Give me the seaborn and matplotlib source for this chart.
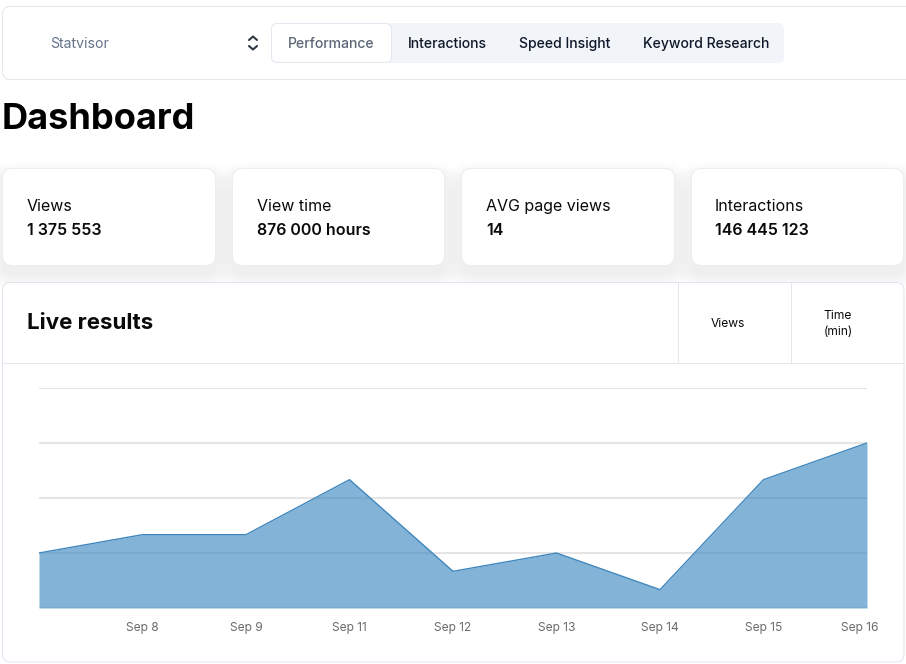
import matplotlib
matplotlib.use("Agg")
import matplotlib.pyplot as plt
from matplotlib.patches import FancyBboxPatch
from matplotlib.transforms import ScaledTranslation
import seaborn as sns
import pandas as pd

days = ["Sep 7", "Sep 8", "Sep 9", "Sep 11", "Sep 12", "Sep 13", "Sep 14", "Sep 15", "Sep 16"]
views = [30, 40, 40, 70, 20, 30, 10, 70, 90]
tick_labels = ["", "Sep 8", "Sep 9", "Sep 11", "Sep 12", "Sep 13", "Sep 14", "Sep 15", "Sep 16"]
y_grid = [0, 30, 60, 90, 120]
tabs = ["Performance", "Interactions", "Speed Insight", "Keyword Research"]
tab_x = [288, 408, 519, 643]
kpi_names = ["Views", "View time", "AVG page views", "Interactions"]
kpi_values = ["1 375 553", "876 000 hours", "14", "146 445 123"]
kpi_x = [27, 256.6, 486, 715]
kpi_boxes = [(2.5, 215.5), (232.5, 444.5), (461.5, 674.5), (691.5, 903.5)]

sns.set_theme(style="white")
plt.rcParams["font.family"] = ["Inter", "DejaVu Sans"]

W, H = 906, 664
fig = plt.figure(figsize=(W / 100, H / 100), dpi=100, facecolor="white")
ui = fig.add_axes([0, 0, 1, 1])
ui.set_xlim(0, W)
ui.set_ylim(H, 0)
ui.axis("off")
px = 72 / 100


def box(x0, y0, x1, y1, r=8, fc="white", ec="#e5e7eb", lw=1.0, z=2, alpha=None):
    p = FancyBboxPatch((x0 + r, y0 + r), x1 - x0 - 2 * r, y1 - y0 - 2 * r,
                       boxstyle=f"round,pad={r},rounding_size={r}",
                       fc=fc, ec=ec, lw=lw * px, zorder=z, alpha=alpha)
    ui.add_patch(p)
    return p


def shadow(x0, y0, x1, y1):
    for i in range(16, 0, -1):
        box(x0 - i + 1, y0 + 9 - i + 1, x1 + i - 1, y1 + 9 + i - 1, r=8 + i,
            fc="#000000", ec="none", z=1, alpha=0.004)


def label(x, y, s, size, color="#0a0a0a", weight="normal", ha="left"):
    ui.text(x, y, s, fontsize=size * px, color=color, fontweight=weight,
            ha=ha, va="baseline", zorder=5)


# top bar
box(2.5, 6.5, 930, 79.5, r=8, z=2)
label(50.6, 48, "Statvisor", 14, "#64748b")
ui.plot([249, 253, 257], [40, 36.5, 40], color="#333a45", lw=1.5, solid_capstyle="round", zorder=5)
ui.plot([249, 253, 257], [46, 49.5, 46], color="#333a45", lw=1.5, solid_capstyle="round", zorder=5)
box(271, 23, 784, 63, r=6, fc="#f1f5f9", ec="none", z=3)
box(271.5, 23.5, 391.5, 62.5, r=6, fc="white", ec="#e2e8f0", z=4)
for i, (name, x) in enumerate(zip(tabs, tab_x)):
    label(x, 48, name, 14, "#5b6676" if i == 0 else "#0f172a", "medium")

label(2, 129, "Dashboard", 36.2, "#000000", "bold")

# KPI cards
for (x0, x1), name, val, x in zip(kpi_boxes, kpi_names, kpi_values, kpi_x):
    shadow(x0, 168.5, x1, 265.5)
    box(x0, 168.5, x1, 265.5, r=10, ec="#ebedf0")
    label(x, 211, name, 16, "#0a0a0a")
    label(x, 235, val, 16, "#0a0a0a", "semibold")

# results card
box(2.5, 282.5, 904, 662, r=8, ec="#dfe5ee")
ui.plot([3, 904], [363.5, 363.5], color="#e5e7eb", lw=1 * px, zorder=4, solid_capstyle="butt", snap=False)
for x in (678.5, 791.5):
    ui.plot([x, x], [283, 363], color="#e5e7eb", lw=1 * px, zorder=4, solid_capstyle="butt", snap=False)
label(27, 329, "Live results", 22.3, "#0a0a0a", "bold")
label(728, 327, "Views", 12, "#0a0a0a", ha="center")
label(823.6, 319, "Time", 12, "#0a0a0a")
label(823.6, 335, "(min)", 12, "#0a0a0a")

# chart
ax = fig.add_axes([39 / W, 1 - 608 / H, (867 - 39) / W, (608 - 388) / H])
ax.patch.set_alpha(0)
df = pd.DataFrame({"day": days, "views": views})
sns.lineplot(data=df, x="day", y="views", sort=False, color="#3f87be", lw=1.0, ax=ax, zorder=4)
ax.fill_between(df["day"], 0, df["views"], color="#3182bd", alpha=0.6, lw=0, zorder=3)
ax.set_xlim(0, len(days) - 1)
ax.set_ylim(y_grid[0], y_grid[-1])
ax.set_yticks(y_grid)
ax.set_yticklabels([])
ax.set_xticks(range(len(days)))
ax.set_xticklabels(tick_labels)
ax.set_xlabel("")
ax.set_ylabel("")
ax.set_axisbelow(True)
ax.grid(axis="y", color="#e5e5e5", lw=1.5)
ax.grid(axis="x", visible=False)
ax.tick_params(axis="x", length=0, pad=10, labelsize=12 * px, labelcolor="#6b6b6b")
ax.tick_params(axis="y", length=0)
for s in ax.spines.values():
    s.set_visible(False)
last = ax.get_xticklabels()[-1]
last.set_transform(last.get_transform() + ScaledTranslation(-7 / 100, 0, fig.dpi_scale_trans))

fig.savefig("out.png", dpi=100, facecolor="white")
